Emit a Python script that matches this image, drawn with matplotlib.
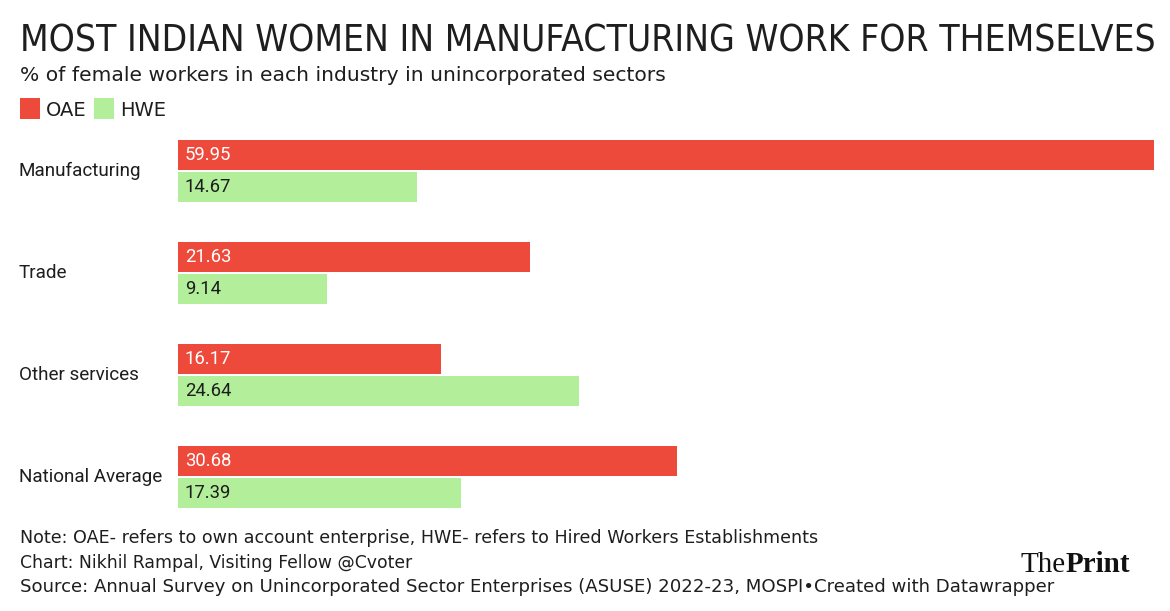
import matplotlib
matplotlib.use("Agg")
import matplotlib.pyplot as plt
import matplotlib.transforms as mtransforms
from matplotlib import font_manager

# ── Data ────────────────────────────────────────────────────────────────────
categories = ["Manufacturing", "Trade", "Other services", "National Average"]
oae = [59.95, 21.63, 16.17, 30.68]
hwe = [14.67, 9.14, 24.64, 17.39]
series_names = ["OAE", "HWE"]

title = "MOST INDIAN WOMEN IN MANUFACTURING WORK FOR THEMSELVES"
subtitle = "% of female workers in each industry in unincorporated sectors"
note = "Note: OAE- refers to own account enterprise, HWE- refers to Hired Workers Establishments"
credit = "Chart: Nikhil Rampal, Visiting Fellow @Cvoter"
source = "Source: Annual Survey on Unincorporated Sector Enterprises (ASUSE) 2022-23, MOSPI\u2022Created with Datawrapper"

RED = "#ee4a3c"
GREEN = "#b3ee9b"
INK = "#1e1e1e"

W, H = 1170, 611


def pick_font(cands):
    names = {f.name for f in font_manager.fontManager.ttflist}
    for c in cands:
        if c in names:
            return c
    return "DejaVu Sans"


foot_font = pick_font(["DejaVu Sans"])
label_font = pick_font(["Roboto", "DejaVu Sans"])
serif = pick_font(["Liberation Serif", "DejaVu Serif"])


def fy(py):
    return 1 - py / H


fig = plt.figure(figsize=(W / 100, H / 100), dpi=100)
fig.patch.set_facecolor("white")

# ── Bars ────────────────────────────────────────────────────────────────────
ax = fig.add_axes([178 / W, fy(528), (1154 - 178) / W, 408 / H])
ypos = list(range(len(categories)))
bh = 0.3
off = 0.155
ax.barh([y - off for y in ypos], oae, height=bh, color=RED, linewidth=0)
ax.barh([y + off for y in ypos], hwe, height=bh, color=GREEN, linewidth=0)
ax.set_xlim(0, max(oae))
ax.set_ylim(3.5, -0.5)
ax.axis("off")

for y, v in zip(ypos, oae):
    ax.annotate(f"{v:.2f}", (0, y - off), xytext=(5, 0), textcoords="offset points",
                va="center", ha="left", color="white", fontsize=13.3, family=label_font)
for y, v in zip(ypos, hwe):
    ax.annotate(f"{v:.2f}", (0, y + off), xytext=(5, 0), textcoords="offset points",
                va="center", ha="left", color=INK, fontsize=13.3, family=label_font)

# category labels, left-aligned at figure edge
tr = mtransforms.blended_transform_factory(fig.transFigure, ax.transData)
for y, c in zip(ypos, categories):
    ax.text(19 / W, y, c, transform=tr, ha="left", va="center",
            fontsize=13.6, color=INK, family=label_font)

# ── Header ──────────────────────────────────────────────────────────────────
t = fig.text(20 / W, fy(52), title, ha="left", va="baseline", fontsize=31,
             color=INK, family="DejaVu Sans", fontstretch="condensed", fontweight="light")
fig.canvas.draw()
r = fig.canvas.get_renderer()
wpx = t.get_window_extent(r).width
t.set_fontsize(31 * (1132 / wpx))

fig.text(20 / W, fy(81), subtitle, ha="left", va="baseline", fontsize=14.6,
         color=INK, family=foot_font)

# legend
for (x0, name, col) in [(20, series_names[0], RED), (94, series_names[1], GREEN)]:
    fig.patches.append(plt.Rectangle((x0 / W, fy(119)), 20 / W, 21 / H,
                                     transform=fig.transFigure, color=col, lw=0))
    fig.text((x0 + 26) / W, fy(116), name, ha="left", va="baseline",
             fontsize=14, color=INK, family=foot_font)

# ── Footer ──────────────────────────────────────────────────────────────────
fig.text(20 / W, fy(543), note, ha="left", va="baseline", fontsize=12.6, color=INK, family=foot_font)
fig.text(20 / W, fy(568), credit, ha="left", va="baseline", fontsize=12.4, color=INK, family=foot_font)
fig.text(20 / W, fy(592), source, ha="left", va="baseline", fontsize=13.1, color=INK, family=foot_font)

p = fig.text(1130 / W, fy(572), "Print", ha="right", va="baseline", fontsize=21,
             fontweight="bold", color="#111111", family=serif)
fig.canvas.draw()
px0 = p.get_window_extent(fig.canvas.get_renderer()).x0
fig.text(px0 / W, fy(572), "The", ha="right", va="baseline", fontsize=21,
         color="#111111", family=serif)

fig.savefig("out.png", dpi=100, facecolor="white")
